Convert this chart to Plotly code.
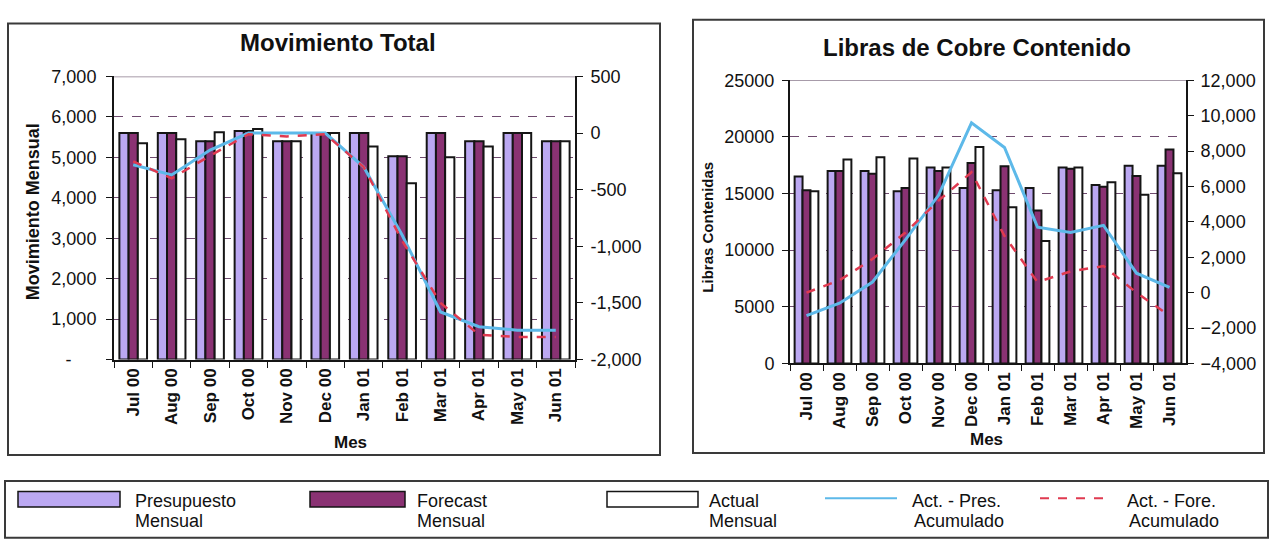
import plotly.graph_objects as go
from plotly.subplots import make_subplots

W, H = 1272, 541
FONT = "Liberation Sans, Arial, sans-serif"

# ---- data ----
meses = ["Jul 00", "Aug 00", "Sep 00", "Oct 00", "Nov 00", "Dec 00",
         "Jan 01", "Feb 01", "Mar 01", "Apr 01", "May 01", "Jun 01"]

# Movimiento Total (mensual, eje izquierdo)
mov_presupuesto = [5600, 5600, 5400, 5650, 5400, 5600, 5600, 5030, 5600, 5400, 5600, 5400]
mov_forecast    = [5600, 5600, 5400, 5650, 5400, 5600, 5600, 5030, 5600, 5400, 5600, 5400]
mov_actual      = [5350, 5450, 5620, 5700, 5400, 5600, 5270, 4360, 5000, 5270, 5600, 5400]
# acumulados (eje derecho)
mov_act_pres = [-280, -370, -150, 0, 0, 0, -300, -900, -1580, -1710, -1740, -1740]
mov_act_fore = [-250, -400, -200, -10, -30, -10, -300, -950, -1500, -1780, -1800, -1800]

# Libras de Cobre Contenido (mensual, eje izquierdo)
lib_presupuesto = [16500, 17000, 17000, 15200, 17300, 15500, 15300, 15500, 17300, 15750, 17450, 17450]
lib_forecast    = [15300, 17000, 16750, 15500, 17000, 17700, 17400, 13500, 17200, 15600, 16550, 18900]
lib_actual      = [15200, 18000, 18200, 18100, 17300, 19100, 13800, 10800, 17300, 16000, 14900, 16800]
# acumulados (eje derecho)
lib_act_pres = [-1300, -600, 600, 3000, 5500, 9600, 8200, 3700, 3400, 3800, 1100, 300]
lib_act_fore = [0, 700, 1900, 3400, 5200, 6800, 3200, 600, 1200, 1500, 0, -1300]

# ---- styles ----
C_PRES = "#BBA8F2"
C_FORE = "#8A3273"
C_ACT = "#FFFFFF"
C_LINE_PRES = "#5DB9E9"
C_LINE_FORE = "#E03A50"
EDGE = "#151515"

fig = make_subplots(rows=1, cols=2, specs=[[{"secondary_y": True}, {"secondary_y": True}]])


def add_panel(col, pres, fore, act, acc_p, acc_f):
    for vals, color in ((pres, C_PRES), (fore, C_FORE), (act, C_ACT)):
        fig.add_trace(go.Bar(x=meses, y=vals, marker=dict(color=color, line=dict(color=EDGE, width=2)),
                             showlegend=False), row=1, col=col, secondary_y=False)
    fig.add_trace(go.Scatter(x=meses, y=acc_p, mode="lines", line=dict(color=C_LINE_PRES, width=3),
                             showlegend=False), row=1, col=col, secondary_y=True)
    fig.add_trace(go.Scatter(x=meses, y=acc_f, mode="lines",
                             line=dict(color=C_LINE_FORE, width=2.5, dash="dash"),
                             showlegend=False), row=1, col=col, secondary_y=True)


add_panel(1, mov_presupuesto, mov_forecast, mov_actual, mov_act_pres, mov_act_fore)
add_panel(2, lib_presupuesto, lib_forecast, lib_actual, lib_act_pres, lib_act_fore)


def px_x(v):
    return v / W


def px_y(v):
    return 1 - v / H


# plot areas (pixels)
L = dict(x0=114, x1=575, top=69, bot=363)
R = dict(x0=790, x1=1186, top=73, bot=367)

tick_font = dict(family=FONT, size=18, color="#111")
xtick_font = dict(family=FONT, size=17, color="#111", weight="bold")

common_x = dict(type="category", tickangle=-90, tickfont=xtick_font, showline=True, linecolor=EDGE,
                linewidth=2, ticks="outside", tickson="boundaries", ticklen=6, tickcolor=EDGE,
                showgrid=False, zeroline=False)
common_y = dict(tickfont=tick_font, showline=True, linecolor=EDGE, linewidth=2, ticks="outside",
                ticklen=6, tickcolor=EDGE, zeroline=False)
fig.update_layout(
    xaxis=dict(domain=[px_x(L["x0"]), px_x(L["x1"])], **common_x),
    xaxis2=dict(domain=[px_x(R["x0"]), px_x(R["x1"])], **common_x),
    yaxis=dict(domain=[px_y(L["bot"]), px_y(L["top"])], range=[0, 7000],
               tickvals=[0, 1000, 2000, 3000, 4000, 5000, 6000, 7000],
               ticktext=["-\u00a0\u00a0\u00a0\u00a0\u00a0", "1,000", "2,000", "3,000", "4,000",
                         "5,000", "6,000", "7,000"],
               showgrid=True, gridcolor="#6e4a6e", griddash="dash", gridwidth=1,
               ticklabelstandoff=6, **common_y),
    yaxis2=dict(range=[-2000, 500], tickvals=[-2000, -1500, -1000, -500, 0, 500],
                ticktext=["-2,000", "-1,500", "-1,000", "-500", "0", "500"],
                showgrid=False, ticklabelstandoff=4, **common_y),
    yaxis3=dict(domain=[px_y(R["bot"]), px_y(R["top"])], range=[0, 25000], dtick=5000, tickformat="d",
                showgrid=True, gridcolor="#6e4a6e", griddash="dash", gridwidth=1,
                ticklabelstandoff=4, **common_y),
    yaxis4=dict(range=[-4000, 12000], dtick=2000, tickformat=",d",
                showgrid=False, ticklabelstandoff=3, **common_y),
    barmode="group", bargap=0.28, bargroupgap=0,
    width=W, height=H, margin=dict(l=0, r=0, t=0, b=0),
    paper_bgcolor="white", plot_bgcolor="white",
    font=dict(family=FONT, color="#111"),
    showlegend=False,
)

shapes = []
annotations = []

# panel frames
for x0, y0, x1, y1 in ((8, 14, 660, 462), (693, 10, 1264, 460), (5, 489, 1268, 548)):
    shapes.append(dict(type="rect", xref="paper", yref="paper", x0=px_x(x0), x1=px_x(x1),
                       y0=px_y(y1), y1=px_y(y0), line=dict(color="#3a3a3a", width=2)))

# solid top border of each plot area
for xr, yr, top in (("x domain", "y", 7000), ("x2 domain", "y3", 25000)):
    shapes.append(dict(type="line", xref=xr, yref=yr, x0=0, x1=1, y0=top, y1=top,
                       line=dict(color="#8a7a8c", width=1.5)))

# titles
annotations += [
    dict(text="<b>Movimiento Total</b>", x=px_x(338), y=px_y(34), font=dict(size=24)),
    dict(text="<b>Libras de Cobre Contenido</b>", x=px_x(977), y=px_y(39), font=dict(size=24)),
    dict(text="<b>Movimiento Mensual</b>", x=px_x(33), y=px_y(210), textangle=-90, font=dict(size=18)),
    dict(text="<b>Libras Contenidas</b>", x=px_x(708), y=px_y(226), textangle=-90, font=dict(size=15)),
    dict(text="<b>Mes</b>", x=px_x(350), y=px_y(449), font=dict(size=17)),
    dict(text="<b>Mes</b>", x=px_x(986), y=px_y(446), font=dict(size=17)),
]

# legend swatches
sw_top, sw_bot = 500, 516
for x0, x1, fill in ((18, 120, C_PRES), (310, 405, C_FORE), (607, 698, C_ACT)):
    shapes.append(dict(type="rect", xref="paper", yref="paper", x0=px_x(x0), x1=px_x(x1),
                       y0=px_y(sw_bot), y1=px_y(sw_top), fillcolor=fill,
                       line=dict(color=EDGE, width=1.5)))
shapes.append(dict(type="line", xref="paper", yref="paper", x0=px_x(825), x1=px_x(897),
                   y0=px_y(507), y1=px_y(507), line=dict(color=C_LINE_PRES, width=2)))
shapes.append(dict(type="line", xref="paper", yref="paper", x0=px_x(1040), x1=px_x(1110),
                   y0=px_y(507), y1=px_y(507), line=dict(color=C_LINE_FORE, width=2, dash="dash")))

for x, l1 in ((133, "Presupuesto"), (415, "Forecast"), (707, "Actual"), (910, "Act. - Pres."),
              (1125, "Act. - Fore.")):
    l2 = "Mensual" if x < 800 else "Acumulado"
    annotations.append(dict(text=l1, x=px_x(x), y=px_y(510), xanchor="left", font=dict(size=18)))
    annotations.append(dict(text=l2, x=px_x(x if x < 800 else x + 2), y=px_y(531), xanchor="left",
                            font=dict(size=18)))

for a in annotations:
    a.setdefault("xref", "paper")
    a.setdefault("yref", "paper")
    a.setdefault("showarrow", False)
    a.setdefault("yanchor", "middle")
    a.setdefault("xanchor", "center")
    f = a.setdefault("font", {})
    f.setdefault("family", FONT)
    f.setdefault("color", "#111")

fig.update_layout(shapes=shapes, annotations=annotations)
fig.write_html("out.html")
